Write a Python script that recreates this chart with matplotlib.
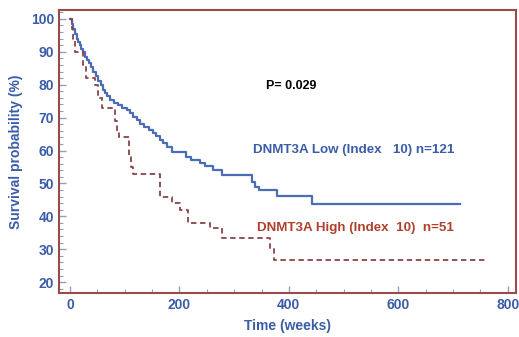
import matplotlib.pyplot as plt
from matplotlib.ticker import MultipleLocator
from matplotlib.transforms import ScaledTranslation

plt.rcParams["font.family"] = ["Liberation Sans", "DejaVu Sans"]

# Kaplan-Meier steps (time in weeks, survival in %)
low_weeks = [0, 3, 6, 9, 12, 15, 18, 21, 24, 27, 31, 35, 39, 43, 48, 52, 56,
             60, 64, 68, 74, 80, 88, 96, 104, 110, 116, 122, 128, 136, 144,
             152, 158, 164, 170, 177, 186, 212, 222, 237, 247, 262, 278, 332,
             338, 345, 378, 442, 712]
low_surv = [100, 98.5, 97, 95.5, 94, 93, 92, 91, 90, 88.5, 87.5, 86.5, 85.5,
            84, 82.5, 81, 80, 78.5, 77.5, 76.5, 75.5, 74.5, 73.7, 73, 72.2,
            71.4, 70.3, 69.3, 68, 67, 66.1, 65.3, 64.3, 63.3, 62.2, 61, 59.6,
            58, 57.2, 56.3, 55.2, 54, 52.5, 50.5, 49, 48, 46.2, 43.8, 43.8]

high_weeks = [0, 3, 6, 9, 24, 30, 46, 52, 58, 82, 86, 90, 108, 112, 116, 164,
              186, 201, 216, 256, 278, 365, 372, 758]
high_surv = [100, 97, 94, 90, 86, 82, 80, 76, 73, 69, 66, 64, 58, 55, 53, 46,
             44, 42, 38, 36.5, 33.5, 30, 26.7, 26.7]

blue = "#3b5ca8"
red = "#b0402c"
frame = "#9b4a4a"

fig = plt.figure(figsize=(5.19, 3.37), dpi=100)
ax = fig.add_axes([0.1137, 0.1306, 0.8805, 0.8397])

ax.step(low_weeks, low_surv, where="post", color="#4a6db5", lw=1.6)
ax.step(high_weeks, high_surv, where="post", color="#8a4448", lw=1.3,
        linestyle=(0, (3, 2)))

ax.set_xlim(-20, 815)
ax.set_ylim(16.7, 102.7)
ax.xaxis.set_major_locator(MultipleLocator(200))
ax.xaxis.set_minor_locator(MultipleLocator(50))
ax.yaxis.set_major_locator(MultipleLocator(10))
ax.yaxis.set_minor_locator(MultipleLocator(2))
ax.yaxis.set_major_formatter(lambda v, p: f"{v:.0f}")
ax.tick_params(which="both", direction="in", color="#8fa0c0", labelcolor=blue,
               top=False, right=False)
ax.tick_params(which="major", length=5, width=1, labelsize=10)
ax.tick_params(which="minor", length=3, width=0.8)
fig.canvas.draw()
for lab in ax.get_xticklabels() + ax.get_yticklabels():
    lab.set_fontweight("bold")
# keep the last x label inside the figure
last = ax.get_xticklabels()[-1]
last.set_transform(last.get_transform()
                   + ScaledTranslation(-3 / 72, 0, fig.dpi_scale_trans))

for s in ax.spines.values():
    s.set_color(frame)
    s.set_linewidth(1.5)

ax.set_xlabel("Time (weeks)", color=blue, fontweight="bold", fontsize=10,
              labelpad=5)
ax.set_ylabel("Survival probability (%)", color=blue, fontweight="bold",
              fontsize=10, labelpad=6)

ax.text(405, 79.6, "P= 0.029", color="black", fontweight="bold",
        fontsize=9, ha="center", va="center")
ax.text(334, 60.2, "DNMT3A Low (Index   10) n=121", color=blue,
        fontweight="bold", fontsize=9.6, ha="left", va="center")
ax.text(342, 36.5, "DNMT3A High (Index  10)  n=51", color=red,
        fontweight="bold", fontsize=9.6, ha="left", va="center")

fig.savefig("out.png", dpi=100)
